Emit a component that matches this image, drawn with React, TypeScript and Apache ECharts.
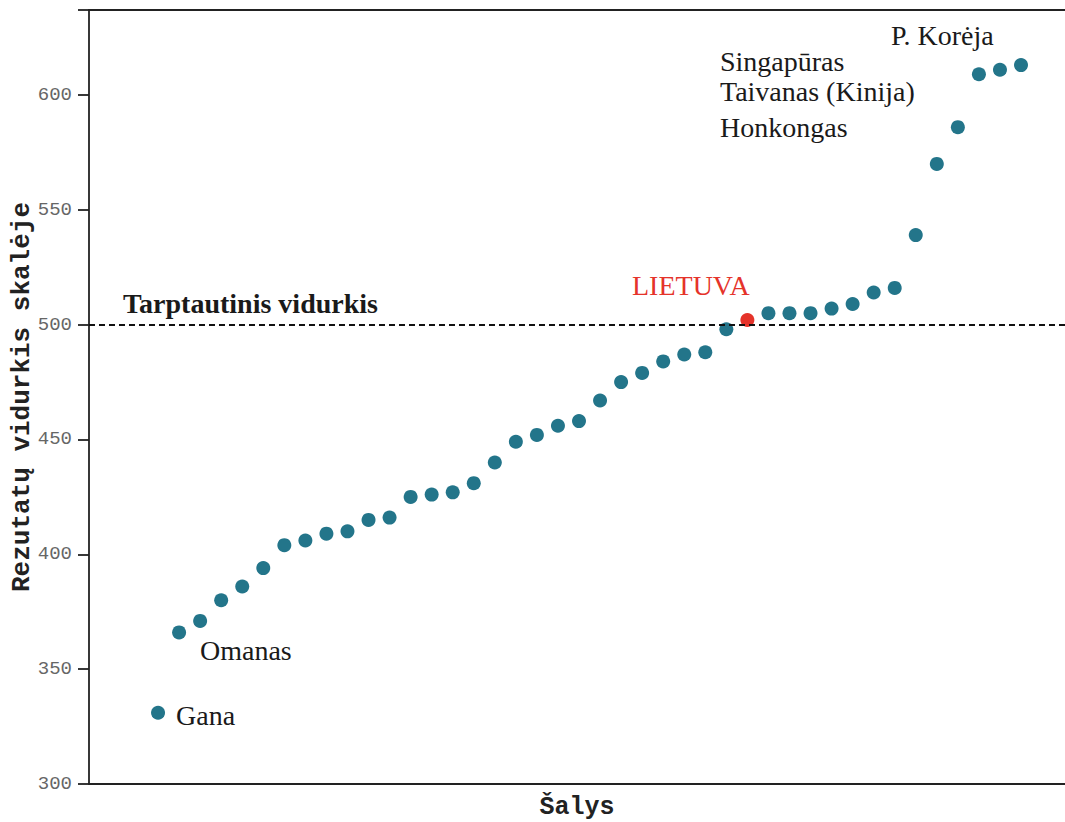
import React, { useEffect, useRef } from "react";
import * as echarts from "echarts";

const scores: number[] = [
  331, 366, 371, 380, 386, 394, 404, 406, 409, 410, 415, 416, 425, 426, 427,
  431, 440, 449, 452, 456, 458, 467, 475, 479, 484, 487, 488, 498, 502, 505,
  505, 505, 507, 509, 514, 516, 539, 570, 586, 609, 611, 613,
];
const lithuaniaIndex = 28;
const yTicks = [300, 350, 400, 450, 500, 550, 600];
const averageScore = 500;
const labels = {
  average: "Tarptautinis vidurkis",
  lithuania: "LIETUVA",
  korea: "P. Korėja",
  singapore: "Singapūras",
  taiwan: "Taivanas (Kinija)",
  hongkong: "Honkongas",
  oman: "Omanas",
  ghana: "Gana",
};
const yTitle = "Rezutatų vidurkis skalėje";
const xTitle = "Šalys";

const TEAL = "#23758a";
const RED = "#e5332a";
const SERIF = "'Liberation Serif', 'DejaVu Serif', serif";
const MONO = "'Liberation Mono', 'DejaVu Sans Mono', monospace";

export default function App() {
  const ref = useRef<HTMLDivElement>(null);
  useEffect(() => {
    if (!ref.current) return;
    const chart = echarts.init(ref.current, undefined, { renderer: "svg" });
    const data = scores.map((v, i) => ({
      value: [i + 1, v],
      itemStyle: { color: i === lithuaniaIndex ? RED : TEAL, opacity: 1 },
    }));
    const txt = (text: string, x: number, y: number, size: number, fill = "#1a1a1a", weight = "normal") => ({
      type: "text",
      x,
      y,
      style: {
        text,
        fill,
        font: `${weight} ${size}px ${SERIF}`,
        textVerticalAlign: "middle",
      },
      z: 10,
    });
    const axisLine = { show: true, onZero: false, lineStyle: { color: "#222", width: 1.8 } };
    chart.setOption({
      animation: false,
      backgroundColor: "#ffffff",
      grid: { left: 89, top: 10, right: 0, bottom: 38, containLabel: false, outerBoundsMode: "none" },
      xAxis: [
        {
          type: "value",
          min: -2.28,
          max: 44.09,
          position: "bottom",
          axisLine,
          axisTick: { show: false },
          axisLabel: { show: false },
          splitLine: { show: false },
          name: xTitle,
          nameLocation: "middle",
          nameGap: 11,
          nameMoveOverlap: false,
          nameTextStyle: { fontFamily: MONO, fontWeight: "bold", fontSize: 25, color: "#222", verticalAlign: "top" },
        },
        {
          type: "value",
          min: -2.28,
          max: 44.09,
          position: "top",
          axisLine,
          axisTick: { show: false },
          axisLabel: { show: false },
          splitLine: { show: false },
        },
      ],
      yAxis: {
        type: "value",
        min: yTicks[0],
        max: 637,
        interval: 50,
        axisLine,
        axisTick: { show: true, length: 11, lineStyle: { color: "#222", width: 1.8 } },
        axisLabel: {
          fontFamily: MONO,
          fontSize: 19,
          color: "#666",
          margin: 17,
          formatter: (v: number) => (yTicks.includes(v) ? String(v) : ""),
        },
        splitLine: { show: false },
        name: yTitle,
        nameLocation: "middle",
        nameGap: 54,
        nameMoveOverlap: false,
        nameTextStyle: { fontFamily: MONO, fontWeight: "bold", fontSize: 26, color: "#222" },
      },
      series: [
        {
          type: "scatter",
          xAxisIndex: 0,
          symbolSize: 14,
          data,
          markLine: {
            silent: true,
            symbol: "none",
            label: { show: false },
            lineStyle: { color: "#111", type: [6, 4], width: 2.2, opacity: 1 },
            data: [{ yAxis: averageScore }],
          },
        },
      ],
      graphic: [
        txt(labels.average, 123, 303, 28, "#1a1a1a", "bold"),
        txt(labels.lithuania, 632, 285, 28, RED),
        txt(labels.korea, 891, 35, 28),
        txt(labels.singapore, 720, 61, 28),
        txt(labels.taiwan, 720, 91, 28),
        txt(labels.hongkong, 720, 127, 28),
        txt(labels.oman, 200, 650, 28),
        txt(labels.ghana, 176, 715, 28),
      ],
    });
    return () => chart.dispose();
  }, []);
  return <div ref={ref} style={{ position: "absolute", left: 0, top: 0, width: 1065, height: 822 }} />;
}
